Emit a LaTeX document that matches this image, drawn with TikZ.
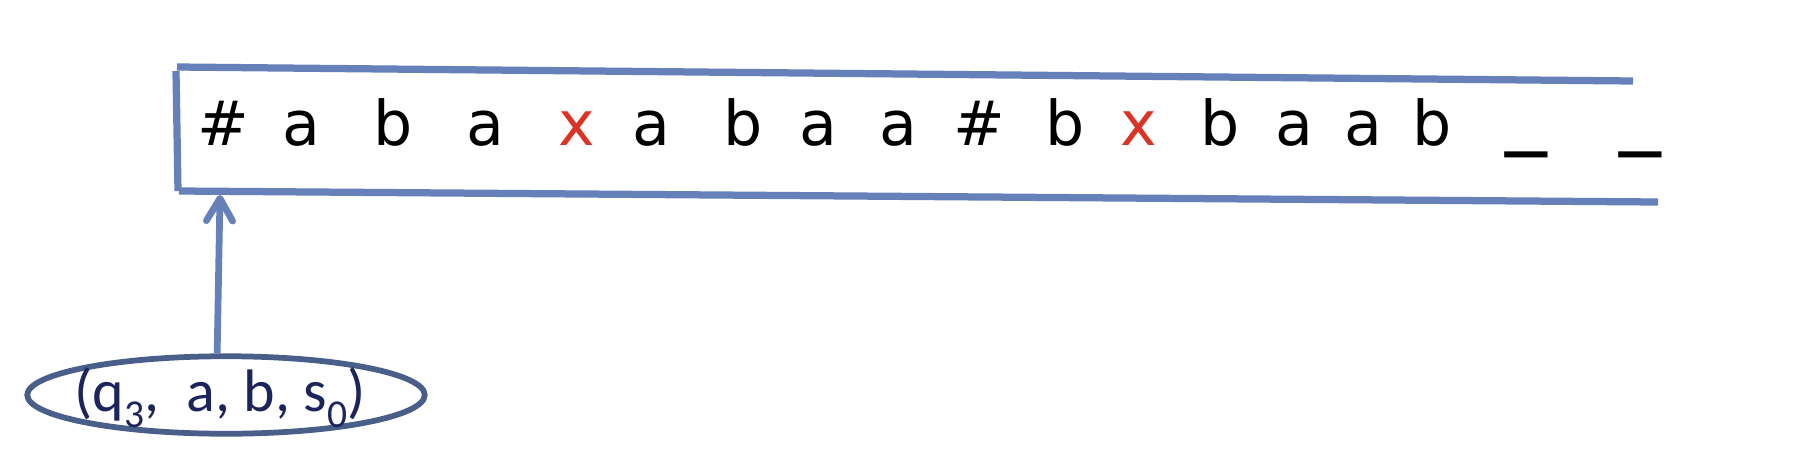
\documentclass[tikz,border=0pt]{standalone}
\usepackage{fontspec}
\setmainfont{DejaVu Sans}
\newfontfamily\calib{Carlito}
\usetikzlibrary{shapes.geometric,arrows.meta}
\definecolor{tapeblue}{RGB}{102,128,185}
\definecolor{ellblue}{RGB}{74,94,138}
\definecolor{navy}{RGB}{28,36,92}
\definecolor{xred}{RGB}{218,52,38}
\newcommand\lowsub[1]{\raisebox{-0.28em}{\fontsize{15.8pt}{15.8pt}\selectfont #1}}
\begin{document}
\begin{tikzpicture}[x=0.4pt,y=-0.4pt,
  tapeline/.style={draw=tapeblue,line width=2.9pt},
  sym/.style={anchor=base,inner sep=0pt,font=\fontsize{24.7pt}{28pt}\selectfont},
  redsym/.style={sym,text=xred},
  blank/.style={sym,yshift=3.2pt},
  arrowline/.style={draw=tapeblue,line width=2.7pt,-{Straight Barb[length=9pt,width=10.5pt,round]}},
  ellnode/.style={ellipse,draw=ellblue,line width=2.3pt,minimum width=159pt,minimum height=31pt,inner sep=0pt},
  elltext/.style={anchor=base,inner sep=0pt,text=navy,font=\calib\fontsize{24pt}{27pt}\selectfont}]
\useasboundingbox (0,0) rectangle (1801,467);
% tape
\draw[tapeline] (177,67) -- (1633,81);
\draw[tapeline] (176,71) -- (178,191);
\draw[tapeline] (179,191) -- (1658,202);
% symbols
\node[sym] (c1) at (223,145) {\#};
\node[sym] (c2) at (301,145) {a};
\node[sym] (c3) at (393,145) {b};
\node[sym] (c4) at (485,145) {a};
\node[redsym] (c5) at (577,145) {x};
\node[sym] (c6) at (651,145) {a};
\node[sym] (c7) at (743,145) {b};
\node[sym] (c8) at (818,145) {a};
\node[sym] (c9) at (898,145) {a};
\node[sym] (c10) at (979,145) {\#};
\node[sym] (c11) at (1065,145) {b};
\node[redsym] (c12) at (1139,145) {x};
\node[sym] (c13) at (1220,145) {b};
\node[sym] (c14) at (1294,145) {a};
\node[sym] (c15) at (1363,145) {a};
\node[sym] (c16) at (1432,145) {b};
\node[blank] (c17) at (1526,145) {\scalebox{1.35}[1.4]{\_}};
\node[blank] (c18) at (1640,145) {\scalebox{1.35}[1.4]{\_}};
% head state
\coordinate (head) at (220,195);
\node[ellnode] (el) at (226,395) {};
\node[elltext] (lbl) at (220,411) {(q\lowsub{3},\ \ a, b, s\lowsub{0})};
\draw[arrowline] (el.102) -- (head);
\end{tikzpicture}
\end{document}
